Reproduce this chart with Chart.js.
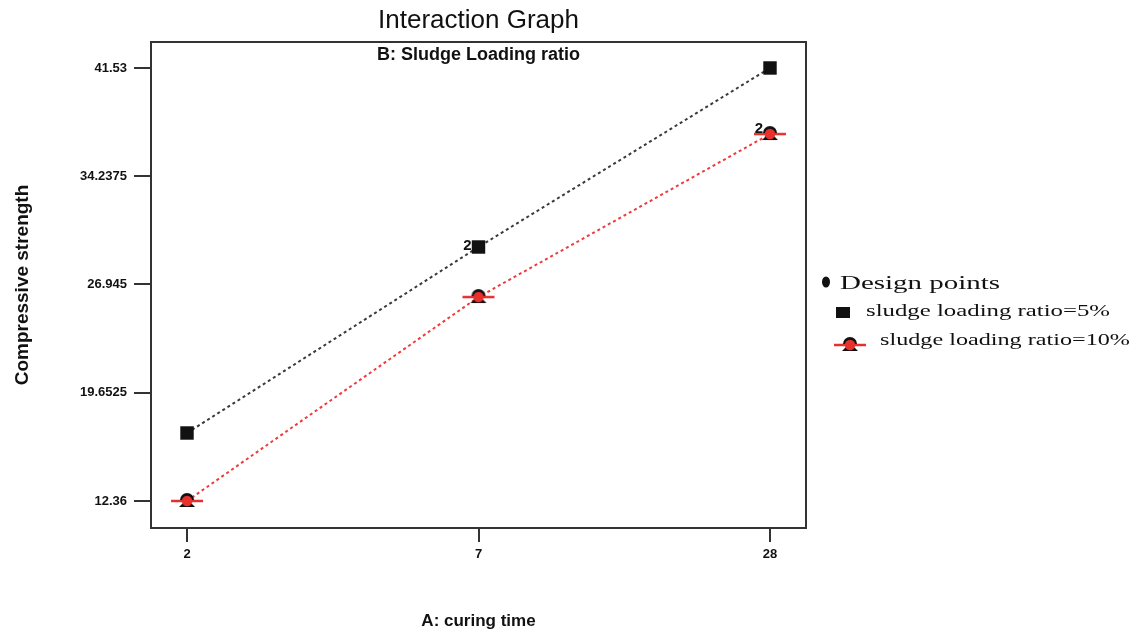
<!DOCTYPE html>
<html>
<head>
<meta charset="utf-8">
<title>Interaction Graph</title>
<script src="https://cdn.jsdelivr.net/npm/chart.js@4.4.1/dist/chart.umd.min.js"></script>
<style>
  html, body { margin: 0; padding: 0; background: #fff; }
  #wrap { width: 1136px; height: 635px; position: relative; }
</style>
</head>
<body>
<div id="wrap"><canvas id="chart"></canvas></div>
<script>
// categories on the x axis (curing time)
const curingTimes = ["2", "7", "28"];
// compressive strength per loading ratio
const ratio5 = [16.94, 29.47, 41.53];
const ratio10 = [12.36, 26.10, 37.08];
// y tick labels as printed on the axis
const yTicks = [12.36, 19.6525, 26.945, 34.2375, 41.53];
// "2" = duplicated design point markers
const dupLabels = [
  { series: 0, index: 1 },
  { series: 1, index: 2 }
];
const legendItems = ["Design points", "sludge loading ratio=5%", "sludge loading ratio=10%"];

const LINE_BLACK = "#3a3a3a";
const LINE_RED = "#ef3b3b";
const SANS = "'Liberation Sans', Arial, sans-serif";
const SERIF = "'Liberation Serif', 'Times New Roman', serif";

// marker for the 10% series: red dot on a black base, with a red dash
function makeRedMarker() {
  const c = document.createElement("canvas");
  c.width = 34; c.height = 20;
  const g = c.getContext("2d");
  g.strokeStyle = "#e53030";
  g.lineWidth = 2.5;
  g.beginPath(); g.moveTo(1, 10); g.lineTo(33, 10); g.stroke();
  g.fillStyle = "#111";
  g.beginPath(); g.moveTo(9, 16); g.lineTo(25, 16); g.lineTo(17, 8); g.closePath(); g.fill();
  g.beginPath(); g.arc(17, 9, 7, Math.PI, 0); g.fill();
  g.fillStyle = "#e8312c";
  g.beginPath(); g.arc(17, 10, 5.2, 0, Math.PI * 2); g.fill();
  return c;
}
const redMarker = makeRedMarker();

// the legend in the picture is a stretched image, so the text is stretched too
function wideText(ctx, text, x, y, width, font) {
  ctx.font = font;
  const w = ctx.measureText(text).width;
  ctx.save();
  ctx.translate(x, y);
  ctx.scale(width / w, 1);
  ctx.fillText(text, 0, 0);
  ctx.restore();
}

const boxAndText = {
  id: "boxAndText",
  afterDraw(chart) {
    const { ctx, chartArea: a, scales } = chart;
    ctx.save();
    // frame round the plot
    ctx.strokeStyle = "#333";
    ctx.lineWidth = 2;
    ctx.strokeRect(a.left, a.top, a.right - a.left, a.bottom - a.top);

    ctx.fillStyle = "#111";
    ctx.textAlign = "center";
    ctx.textBaseline = "middle";
    ctx.font = "26px " + SANS;
    ctx.fillText("Interaction Graph", (a.left + a.right) / 2, 21);
    ctx.font = "bold 18px " + SANS;
    ctx.fillText("B: Sludge Loading ratio", (a.left + a.right) / 2, 55);

    // duplicate point labels
    ctx.font = "bold 15px " + SANS;
    ctx.textAlign = "right";
    dupLabels.forEach(d => {
      const v = chart.data.datasets[d.series].data[d.index];
      const px = scales.x.getPixelForValue(v.x);
      const py = scales.y.getPixelForValue(v.y);
      ctx.fillText("2", px - 7, py - (d.series === 1 ? 5 : 1));
    });

    // legend
    ctx.textAlign = "left";
    ctx.fillStyle = "#111";
    ctx.beginPath(); ctx.ellipse(826, 282, 4, 5.5, 0, 0, Math.PI * 2); ctx.fill();
    wideText(ctx, legendItems[0], 840, 284, 160, "18px " + SERIF);
    ctx.fillRect(836, 307, 14, 11);
    wideText(ctx, legendItems[1], 866, 312, 244, "17px " + SERIF);
    ctx.drawImage(redMarker, 833, 335);
    wideText(ctx, legendItems[2], 880, 341, 250, "17px " + SERIF);
    ctx.restore();
  }
};

const toPoints = vals => vals.map((v, i) => ({ x: i, y: v }));

new Chart(document.getElementById("chart"), {
  type: "line",
  data: {
    datasets: [
      {
        label: legendItems[1],
        data: toPoints(ratio5),
        borderColor: LINE_BLACK,
        borderWidth: 2,
        borderDash: [3, 3],
        pointStyle: "rect",
        pointRadius: 9.5,
        pointBackgroundColor: "#111",
        pointBorderColor: "#111",
        pointBorderWidth: 0,
        tension: 0
      },
      {
        label: legendItems[2],
        data: toPoints(ratio10),
        borderColor: LINE_RED,
        borderWidth: 2,
        borderDash: [3, 3],
        pointStyle: redMarker,
        tension: 0
      }
    ]
  },
  options: {
    responsive: true,
    maintainAspectRatio: false,
    animation: false,
    layout: { padding: { left: 0, top: 42, right: 330, bottom: 0 } },
    plugins: {
      legend: { display: false },
      tooltip: { enabled: false }
    },
    scales: {
      x: {
        type: "linear",
        min: -0.1235,
        max: 2.1235,
        afterBuildTicks: s => { s.ticks = curingTimes.map((c, i) => ({ value: i })); },
        afterFit: s => { s.height = 107; },
        ticks: {
          callback: v => curingTimes[v],
          color: "#111",
          padding: 5,
          font: { family: SANS, size: 13, weight: "bold" }
        },
        grid: { drawOnChartArea: false, tickLength: 14, color: "#333", lineWidth: 2 },
        border: { color: "#333", width: 2 },
        title: {
          display: true,
          text: "A: curing time",
          color: "#111",
          padding: { bottom: 3 },
          font: { family: SANS, size: 17, weight: "bold" }
        }
      },
      y: {
        min: 10.54,
        max: 43.28,
        afterBuildTicks: s => { s.ticks = yTicks.map(v => ({ value: v })); },
        afterFit: s => { s.width = 151; },
        ticks: {
          callback: v => String(v),
          color: "#111",
          padding: 7,
          font: { family: SANS, size: 13, weight: "bold" }
        },
        grid: { drawOnChartArea: false, tickLength: 17, color: "#333", lineWidth: 2 },
        border: { color: "#333", width: 2 },
        title: {
          display: true,
          text: "Compressive strength",
          color: "#111",
          padding: { top: 11 },
          font: { family: SANS, size: 19, weight: "bold" }
        }
      }
    }
  },
  plugins: [boxAndText]
});
</script>
</body>
</html>
